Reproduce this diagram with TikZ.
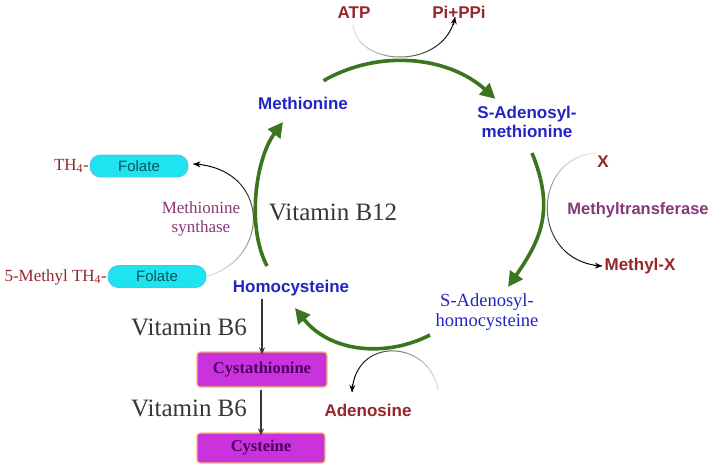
\documentclass[tikz,border=0pt]{standalone}
\usepackage{fontspec}
\setmainfont{Liberation Serif}
\setsansfont{Liberation Sans}
\usetikzlibrary{arrows.meta,fadings,calc}
\definecolor{cblue}{RGB}{36,36,196}
\definecolor{cred}{RGB}{150,38,42}
\definecolor{cpurple}{RGB}{135,55,120}
\definecolor{cgreen}{RGB}{58,118,30}
\definecolor{cgray}{RGB}{55,55,55}
\definecolor{ccyan}{RGB}{30,228,240}
\definecolor{ccyanb}{RGB}{90,190,230}
\definecolor{cmag}{RGB}{202,50,222}
\definecolor{cmagb}{RGB}{245,190,110}
\definecolor{cmagt}{RGB}{75,0,95}
\definecolor{cteal}{RGB}{15,80,90}
\tikzfading[name=fadeLR, left color=transparent!88, right color=transparent!0]
\tikzfading[name=fadeRL, left color=transparent!0, right color=transparent!88]
\tikzfading[name=fadeTB, top color=transparent!88, bottom color=transparent!0]
\tikzfading[name=fadeBT, top color=transparent!0, bottom color=transparent!88]
\begin{document}
\begin{tikzpicture}[x=1pt,y=-1pt,
  sansb/.style={font=\sffamily\bfseries\fontsize{17}{19}\selectfont, inner sep=0pt, align=center},
  metab/.style={sansb, text=cblue},
  prod/.style={sansb, text=cred},
  serifbig/.style={font=\fontsize{25}{28}\selectfont, text=cgray, inner sep=0pt},
  serifmid/.style={font=\fontsize{17}{18.5}\selectfont, inner sep=0pt, align=center},
  pill/.style={draw=ccyanb, fill=ccyan, line width=0.8pt, rounded corners=10.5pt,
     minimum width=98pt, minimum height=22pt, inner sep=0pt, text=cteal,
     font=\sffamily\fontsize{15}{17}\selectfont},
  magbox/.style={draw=cmagb, fill=cmag, line width=1.2pt, rounded corners=3pt,
     inner sep=0pt, text=cmagt, font=\bfseries\fontsize{16.5}{18}\selectfont},
  greenarr/.style={draw=cgreen, line width=3.6pt, -{Triangle[length=15pt,width=15pt]}},
  thinarr/.style={draw=cgray, line width=1.1pt, -{Stealth[length=7pt,width=6pt]}},
  grayline/.style={draw=black, line width=1pt},
  graytip/.style={draw=black, line width=1pt, -{Stealth[length=7pt,width=6pt]}}
]
\useasboundingbox (0,0) rectangle (709,467);
\fill[white] (0,0) rectangle (709,467);

% nodes
\node[prod] (atp) at (354,13) {ATP};
\node[prod] (pi) at (459,12) {Pi+PPi};
\node[metab] (met) at (303,103) {Methionine};
\node[metab] (sam) at (527,122) {S-Adenosyl-\\methionine};
\node[prod] (x) at (603,162) {X};
\node[sansb, text=cpurple, font=\sffamily\fontsize{16.5}{19}\selectfont\bfseries] (mtf) at (638,210) {Methyltransferase};
\node[prod] (mx) at (640,266) {Methyl-X};
\node[serifmid, text=cblue, font=\fontsize{18.5}{20}\selectfont] (sah) at (487,312) {S-Adenosyl-\\homocysteine};
\node[prod] (ado) at (368,410) {Adenosine};
\node[metab] (hcy) at (291,288) {Homocysteine};
\node[serifbig] (vb12) at (333,212) {Vitamin B12};
\node[serifbig] (vb6a) at (189,327) {Vitamin B6};
\node[serifbig] (vb6b) at (189,408) {Vitamin B6};
\node[magbox, minimum width=130pt, minimum height=35pt] (cysta) at (262,369.5) {Cystathionine};
\node[magbox, minimum width=128pt, minimum height=30pt] (cys) at (261,448) {Cysteine};
\node[pill] (fol1) at (139,166) {Folate};
\node[pill] (fol2) at (157,276.5) {Folate};
\node[serifmid, text=cred, anchor=east] (th4) at (89,166) {TH\textsubscript{4}-};
\node[serifmid, text=cred, anchor=east] (mth4) at (107,277) {5-Methyl TH\textsubscript{4}-};
\node[serifmid, text=cpurple] (ms) at (201,219) {Methionine\\synthase};

% green cycle
\coordinate (g1s) at (323.5,80.7);
\coordinate (g1e) at (495.4,98.8);
\draw[greenarr] (g1s) .. controls (378.7,48.9) and (448.1,56.2) .. (g1e);
\coordinate (g2s) at (532,153);
\coordinate (g2e) at (508,287);
\draw[greenarr] (g2s) .. controls (554.5,208.6) and (542,238) .. (g2e);
\coordinate (g3s) at (430,335);
\coordinate (g3e) at (295,308);
\draw[greenarr] (g3s) .. controls (385,358) and (330,352) .. (g3e);
\coordinate (g4s) at (267,266);
\coordinate (g4e) at (283,122);
\draw[greenarr] (g4s) .. controls (246,226) and (256,158) .. (g4e);

% gray side reactions
\coordinate (a1s) at (353,25);
\coordinate (a1c) at (445,70);
\coordinate (a1e) at (455,17);
\draw[grayline, path fading=fadeLR] (a1s) .. controls (358,68) and (a1c) .. (a1e);
\draw[graytip] ($(a1e)!8pt!(a1c)$) -- (a1e);

\coordinate (a2c) at (270,168);
\coordinate (a2e) at ($(fol1.east)+(5,-2)$);
\draw[grayline, path fading=fadeBT] (fol2.east) .. controls (272,258) and (a2c) .. (a2e);
\draw[graytip] ($(a2e)!8pt!(a2c)$) -- (a2e);

\coordinate (a3s) at (596,153);
\coordinate (a3c) at (530,262);
\coordinate (a3e) at (602,266);
\draw[grayline, path fading=fadeTB] (a3s) .. controls (530,158) and (a3c) .. (a3e);
\draw[graytip] ($(a3e)!8pt!(a3c)$) -- (a3e);

\coordinate (a4s) at (438,390);
\coordinate (a4c) at (355,335);
\coordinate (a4e) at (352,392);
\draw[grayline, path fading=fadeRL] (a4s) .. controls (430,340) and (a4c) .. (a4e);
\draw[graytip] ($(a4e)!8pt!(a4c)$) -- (a4e);

% straight arrows
\draw[thinarr] (hcy.south -| cysta.north) ++(0,3) -- ([yshift=-3pt]cysta.north);
\draw[thinarr] (cysta.south) ++(-1,2) -- ([yshift=-3pt]cys.north);
\end{tikzpicture}
\end{document}
